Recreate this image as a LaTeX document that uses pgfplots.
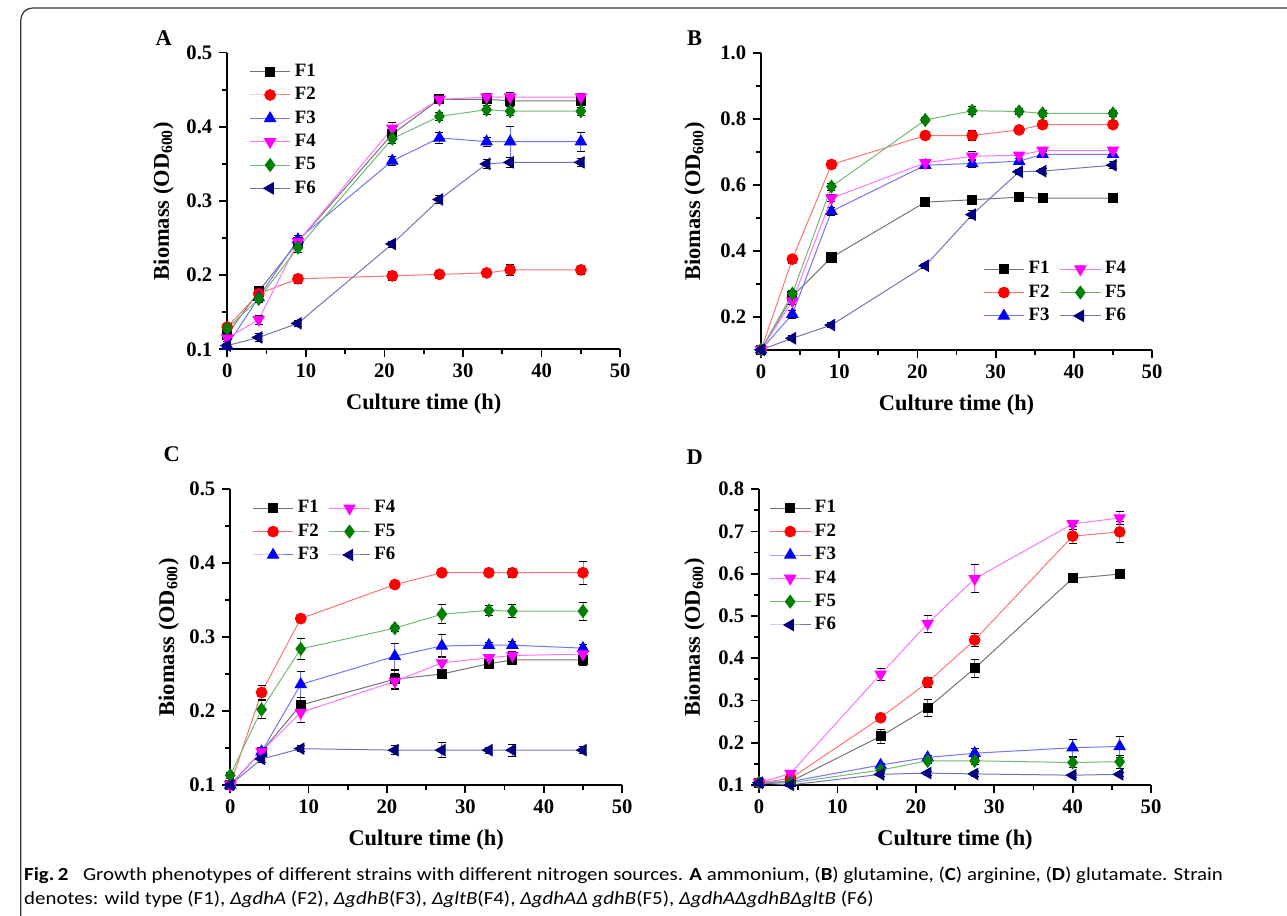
\documentclass[border=0pt]{standalone}
\usepackage{fontspec}
\setmainfont{Liberation Serif}
\setsansfont{Carlito}
\usepackage{pgfplots}
\pgfplotsset{compat=1.18}
\usepackage{pgfplotstable}

\definecolor{cF1}{RGB}{0,0,0}
\definecolor{cF2}{RGB}{255,0,0}
\definecolor{cF3}{RGB}{0,0,255}
\definecolor{cF4}{RGB}{255,0,255}
\definecolor{cF5}{RGB}{0,128,0}
\definecolor{cF6}{RGB}{0,0,128}

% ammonium
\pgfplotstableread{
x  F1    e1    F2    e2    F3    e3    F4    e4    F5    e5    F6    e6
0  0.120 0.004 0.130 0.004 0.105 0.003 0.115 0.004 0.128 0.004 0.105 0.003
4  0.178 0.005 0.175 0.005 0.170 0.005 0.140 0.006 0.168 0.005 0.116 0.005
9  0.245 0.005 0.195 0.006 0.248 0.005 0.245 0.005 0.237 0.006 0.135 0.004
21 0.390 0.006 0.199 0.006 0.354 0.006 0.398 0.008 0.384 0.006 0.242 0.004
27 0.437 0.004 0.201 0.006 0.385 0.007 0.437 0.004 0.414 0.005 0.302 0.005
33 0.437 0.005 0.203 0.005 0.380 0.006 0.440 0.005 0.423 0.006 0.350 0.006
36 0.435 0.006 0.207 0.007 0.380 0.021 0.440 0.006 0.421 0.006 0.352 0.007
45 0.435 0.005 0.207 0.006 0.380 0.013 0.440 0.005 0.421 0.005 0.352 0.006
}\tabA
% glutamine
\pgfplotstableread{
x  F1    e1    F2    e2    F3    e3    F4    e4    F5    e5    F6    e6
0  0.100 0.004 0.100 0.004 0.100 0.004 0.100 0.004 0.100 0.004 0.100 0.004
4  0.262 0.010 0.375 0.012 0.208 0.012 0.248 0.010 0.270 0.010 0.135 0.008
9  0.380 0.008 0.662 0.010 0.520 0.012 0.560 0.010 0.595 0.010 0.175 0.008
21 0.548 0.008 0.750 0.010 0.660 0.010 0.667 0.010 0.797 0.008 0.355 0.008
27 0.555 0.010 0.750 0.014 0.665 0.012 0.687 0.014 0.825 0.012 0.510 0.012
33 0.563 0.008 0.767 0.010 0.672 0.010 0.690 0.010 0.823 0.010 0.640 0.008
36 0.560 0.008 0.783 0.010 0.693 0.010 0.705 0.010 0.817 0.008 0.642 0.008
45 0.560 0.008 0.783 0.010 0.693 0.010 0.705 0.010 0.817 0.010 0.660 0.010
}\tabB
% arginine
\pgfplotstableread{
x  F1    e1    F2    e2    F3    e3    F4    e4    F5    e5    F6    e6
0  0.100 0.003 0.100 0.003 0.100 0.003 0.100 0.003 0.113 0.004 0.100 0.003
4  0.145 0.005 0.225 0.009 0.145 0.005 0.145 0.005 0.202 0.012 0.135 0.005
9  0.208 0.010 0.325 0.005 0.236 0.017 0.198 0.014 0.284 0.014 0.149 0.004
21 0.243 0.012 0.371 0.004 0.274 0.018 0.240 0.011 0.312 0.004 0.147 0.006
27 0.250 0.005 0.387 0.003 0.288 0.016 0.265 0.009 0.331 0.013 0.147 0.010
33 0.264 0.006 0.387 0.004 0.289 0.004 0.272 0.005 0.336 0.007 0.147 0.004
36 0.269 0.005 0.387 0.006 0.289 0.005 0.275 0.005 0.335 0.009 0.147 0.008
45 0.269 0.008 0.387 0.016 0.285 0.005 0.277 0.006 0.335 0.012 0.147 0.005
}\tabC
% glutamate
\pgfplotstableread{
x    F1    e1    F2    e2    F3    e3    F4    e4    F5    e5    F6    e6
0    0.105 0.004 0.105 0.004 0.105 0.004 0.105 0.004 0.105 0.004 0.105 0.004
4    0.108 0.004 0.115 0.005 0.108 0.004 0.127 0.005 0.105 0.004 0.100 0.004
15.5 0.215 0.016 0.259 0.006 0.147 0.005 0.362 0.015 0.135 0.006 0.125 0.005
21.5 0.282 0.020 0.343 0.012 0.165 0.005 0.482 0.020 0.157 0.006 0.128 0.005
27.5 0.376 0.022 0.443 0.015 0.175 0.012 0.588 0.033 0.157 0.008 0.126 0.005
40   0.589 0.005 0.689 0.017 0.188 0.020 0.718 0.006 0.153 0.012 0.123 0.005
46   0.599 0.006 0.699 0.025 0.191 0.025 0.732 0.015 0.155 0.016 0.125 0.005
}\tabD

\pgfplotsset{
  panel/.style={
    scale only axis,
    axis x line*=bottom, axis y line*=left,
    xmin=0, xmax=50, xtick={0,10,20,30,40,50}, minor x tick num=1,
    minor y tick num=1,
    tick align=outside,
    axis line style={line width=0.9pt},
    major tick style={line width=0.9pt, black},
    minor tick style={line width=0.9pt, black},
    major tick length=4pt, minor tick length=2.5pt,
    /pgf/number format/assume math mode=true,
    ticklabel style={font=\bfseries\fontsize{10.4}{12}\selectfont},
    yticklabel style={/pgf/number format/.cd, fixed, fixed zerofill, precision=1},
    label style={font=\bfseries\fontsize{11.3}{13}\selectfont},
    xlabel={Culture time (h)},
    ylabel={Biomass (OD\textsubscript{600})},
    x label style={at={(axis description cs:0.5,-0.185)}, anchor=center},
    clip=false,
    legend cell align=left,
    legend style={draw=none, fill=none, font=\bfseries\fontsize{9.5}{11}\selectfont,
      /tikz/every even column/.append style={column sep=3pt}},
    legend image code/.code={\draw[mark repeat=2,mark phase=2,##1]
      plot coordinates {(0cm,0cm) (0.36cm,0cm) (0.72cm,0cm)};},
  },
  eb/.style={error bars/.cd, y dir=both, y explicit,
    error bar style={line width=0.4pt},
    error mark options={rotate=90, mark size=2pt, line width=0.4pt}},
  f1/.style={draw=cF1!55, line width=0.5pt, mark=square*, mark size=2.3pt,
    mark options={fill=cF1, draw=cF1}, eb},
  f2/.style={draw=cF2!55, line width=0.5pt, mark=*, mark size=2.7pt,
    mark options={fill=cF2, draw=cF2}, eb},
  f3/.style={draw=cF3!55, line width=0.5pt, mark=triangle*, mark size=3.2pt,
    mark options={fill=cF3, draw=cF3}, eb},
  f4/.style={draw=cF4!55, line width=0.5pt, mark=triangle*, mark size=3.2pt,
    mark options={fill=cF4, draw=cF4, rotate=180}, eb},
  f5/.style={draw=cF5!55, line width=0.5pt, mark=diamond*, mark size=3.2pt,
    mark options={fill=cF5, draw=cF5}, eb},
  f6/.style={draw=cF6!55, line width=0.5pt, mark=triangle*, mark size=3.2pt,
    mark options={fill=cF6, draw=cF6, rotate=90}, eb},
}

\newcommand{\allseries}[1]{%
  \addplot[f1] table[x=x, y=F1, y error=e1] {#1};
  \addplot[f2] table[x=x, y=F2, y error=e2] {#1};
  \addplot[f3] table[x=x, y=F3, y error=e3] {#1};
  \addplot[f4] table[x=x, y=F4, y error=e4] {#1};
  \addplot[f5] table[x=x, y=F5, y error=e5] {#1};
  \addplot[f6] table[x=x, y=F6, y error=e6] {#1};
  \legend{F1,F2,F3,F4,F5,F6}
}

\newcommand{\capfont}{\sffamily\fontsize{9.3}{11}\selectfont}
\newcommand{\capone}{\textbf{Fig.\,2}\hspace{0.7em}Growth phenotypes of different strains with different nitrogen sources. \textbf{A} ammonium, (\textbf{B}) glutamine, (\textbf{C}) arginine, (\textbf{D}) glutamate. Strain}
\newcommand{\captwo}{denotes: wild type (F1), \textit{ΔgdhA} (F2), \textit{ΔgdhB}(F3), \textit{ΔgltB}(F4), \textit{ΔgdhAΔ gdhB}(F5), \textit{ΔgdhAΔgdhBΔgltB} (F6)}
\newlength{\capw}

\begin{document}
\settowidth{\capw}{\capfont\capone}
\pgfmathsetmacro{\capfac}{604pt/\capw}
\begin{tikzpicture}
\path[use as bounding box] (0,0) rectangle (643.5pt,461.5pt);
\draw[line width=0.6pt, black!80, rounded corners=6pt] (5.5pt,0pt) -- (5.5pt,457.5pt) -- (660pt,457.5pt);

% A
\begin{axis}[panel, at={(109.5pt,285.5pt)}, anchor=south west,
  width=198pt, height=149.5pt,
  ymin=0.1, ymax=0.5, ytick={0.1,0.2,0.3,0.4,0.5},
  y label style={at={(axis description cs:-0.162,0.5)}, anchor=center},
  legend style={at={(0.04,0.99)}, anchor=north west}]
\allseries{\tabA}
\end{axis}

% B
\begin{axis}[panel, at={(378.5pt,285.25pt)}, anchor=south west,
  width=197pt, height=149.5pt,
  ymin=0.1, ymax=1.0, ytick={0.2,0.4,0.6,0.8,1.0},
  y label style={at={(axis description cs:-0.17,0.5)}, anchor=center},
  legend columns=3, transpose legend,
  legend style={at={(0.96,0.06)}, anchor=south east}]
\allseries{\tabB}
\end{axis}

% C
\begin{axis}[panel, at={(111pt,66pt)}, anchor=south west,
  width=197.5pt, height=149pt,
  ymin=0.1, ymax=0.5, ytick={0.1,0.2,0.3,0.4,0.5},
  y label style={at={(axis description cs:-0.157,0.5)}, anchor=center},
  legend columns=3, transpose legend,
  legend style={at={(0.04,0.99)}, anchor=north west}]
\allseries{\tabC}
\end{axis}

% D
\begin{axis}[panel, at={(377.5pt,66pt)}, anchor=south west,
  width=197.5pt, height=149pt,
  ymin=0.1, ymax=0.8, ytick={0.1,0.2,0.3,0.4,0.5,0.6,0.7,0.8},
  y label style={at={(axis description cs:-0.165,0.5)}, anchor=center},
  legend style={at={(0.01,0.99)}, anchor=north west}]
\allseries{\tabD}
\end{axis}

\begin{scope}[every node/.style={font=\bfseries\fontsize{11.3}{13}\selectfont}]
\node at (77.5pt,442.5pt) {A};
\node at (345pt,442.5pt) {B};
\node at (81.5pt,232.5pt) {C};
\node at (345pt,231pt) {D};
\end{scope}

\begin{scope}[every node/.style={anchor=base west, inner sep=0pt, font=\capfont}]
\node at (7pt,18pt) {\scalebox{\capfac}[1]{\capone}};
\node at (7pt,5.5pt) {\scalebox{\capfac}[1]{\captwo}};
\end{scope}
\end{tikzpicture}
\end{document}
